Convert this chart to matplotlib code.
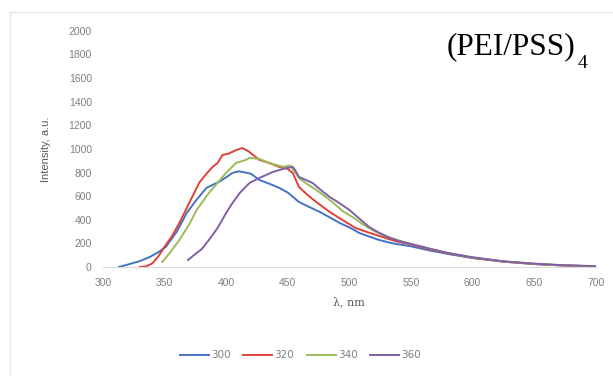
import matplotlib
matplotlib.use("Agg")
import matplotlib.pyplot as plt
from matplotlib.lines import Line2D

# Data
wl_300 = [313, 320, 330, 338, 345, 351, 360, 368, 376, 384, 390, 394, 400, 405, 410, 413, 420, 427, 435, 443, 450, 459, 467, 476, 484, 492, 500, 508, 516, 524, 535, 550, 565, 580, 600, 625, 650, 675, 700]
int_300 = [0, 20, 50, 85, 125, 170, 300, 458, 570, 670, 700, 720, 760, 796, 810, 805, 790, 737, 705, 670, 630, 551, 510, 466, 420, 373, 335, 288, 258, 229, 200, 175, 140, 110, 75, 45, 25, 12, 5]

wl_320 = [330, 335, 340, 345, 350, 356, 362, 370, 378, 384, 389, 393, 397, 402, 407, 413, 418, 427, 435, 443, 450, 454, 459, 466, 473, 484, 497, 505, 514, 525, 537, 550, 565, 580, 600, 625, 650, 675, 700]
int_320 = [0, 5, 30, 90, 172, 260, 373, 542, 712, 790, 848, 880, 949, 960, 985, 1008, 980, 907, 880, 848, 830, 796, 678, 610, 551, 466, 381, 330, 297, 260, 220, 190, 150, 115, 78, 45, 25, 12, 5]

wl_340 = [348, 355, 362, 370, 376, 386, 392, 397, 403, 408, 416, 419, 427, 435, 446, 452, 459, 466, 473, 480, 487, 495, 503, 511, 519, 530, 540, 550, 565, 580, 600, 625, 650, 675, 700]
int_340 = [42, 130, 229, 360, 483, 627, 700, 763, 830, 881, 907, 924, 915, 881, 848, 860, 754, 700, 653, 600, 542, 470, 420, 360, 310, 260, 225, 195, 155, 118, 80, 47, 27, 13, 6]

wl_360 = [369, 375, 380, 386, 393, 400, 405, 411, 419, 427, 438, 446, 454, 456, 459, 464, 470, 477, 484, 492, 500, 508, 516, 524, 532, 540, 550, 565, 580, 600, 625, 650, 675, 700]
int_360 = [59, 110, 150, 229, 330, 458, 540, 627, 712, 754, 805, 830, 848, 820, 763, 740, 712, 650, 593, 540, 483, 410, 339, 290, 250, 220, 195, 155, 118, 82, 48, 28, 14, 7]

series = [("300", wl_300, int_300, "#4472C4"),
          ("320", wl_320, int_320, "#E0403A"),
          ("340", wl_340, int_340, "#9BBB59"),
          ("360", wl_360, int_360, "#7E5FA8")]

x_ticks = [300, 350, 400, 450, 500, 550, 600, 650, 700]
y_ticks = [0, 200, 400, 600, 800, 1000, 1200, 1400, 1600, 1800, 2000]

fig = plt.figure(figsize=(6.13, 3.76), dpi=100)
ax = fig.add_axes([0.168, 0.29, 0.804, 0.628])

for name, x, y, c in series:
    ax.plot(x, y, color=c, lw=1.4, label=name)

ax.set_xlim(300, 700)
ax.set_ylim(0, 2000)
ax.set_xticks(x_ticks)
ax.set_yticks(y_ticks)
for s in ["top", "right", "left"]:
    ax.spines[s].set_visible(False)
ax.spines["bottom"].set_color("#D9D9D9")
ax.tick_params(length=0, labelsize=7.5, colors="#7F7F7F", pad=8)
for lab in ax.get_xticklabels() + ax.get_yticklabels():
    lab.set_family("Liberation Sans")

ax.set_xlabel("λ, nm", fontsize=8, color="#595959", family="DejaVu Serif", labelpad=6)
ax.set_ylabel("Intensity, a.u.", fontsize=8, color="#595959", family="Liberation Sans", labelpad=13)

fig.text(447/613, 1 - 54/376, "(PEI/PSS)", fontsize=22.5, family="Liberation Serif",
         color="black", va="baseline", ha="left")
fig.text(578/613, 1 - 68/376, "4", fontsize=14, family="Liberation Serif",
         color="black", va="baseline", ha="left")

handles = [Line2D([0], [0], color=c, lw=1.4) for _, _, _, c in series]
fig.legend(handles, [s[0] for s in series], loc="center", bbox_to_anchor=(0.49, 0.055),
           ncol=4, frameon=False, fontsize=7.5, handlelength=2.8, handletextpad=0.2,
           columnspacing=1.2, labelcolor="#7F7F7F")

# outer chart frame lines (top and left)
fig.add_artist(Line2D([10/613, 1], [1 - 12/376, 1 - 12/376], color="#E6E6E6", lw=1, transform=fig.transFigure))
fig.add_artist(Line2D([10/613, 10/613], [0, 1 - 12/376], color="#E6E6E6", lw=1, transform=fig.transFigure))

fig.savefig("out.png", dpi=100)
